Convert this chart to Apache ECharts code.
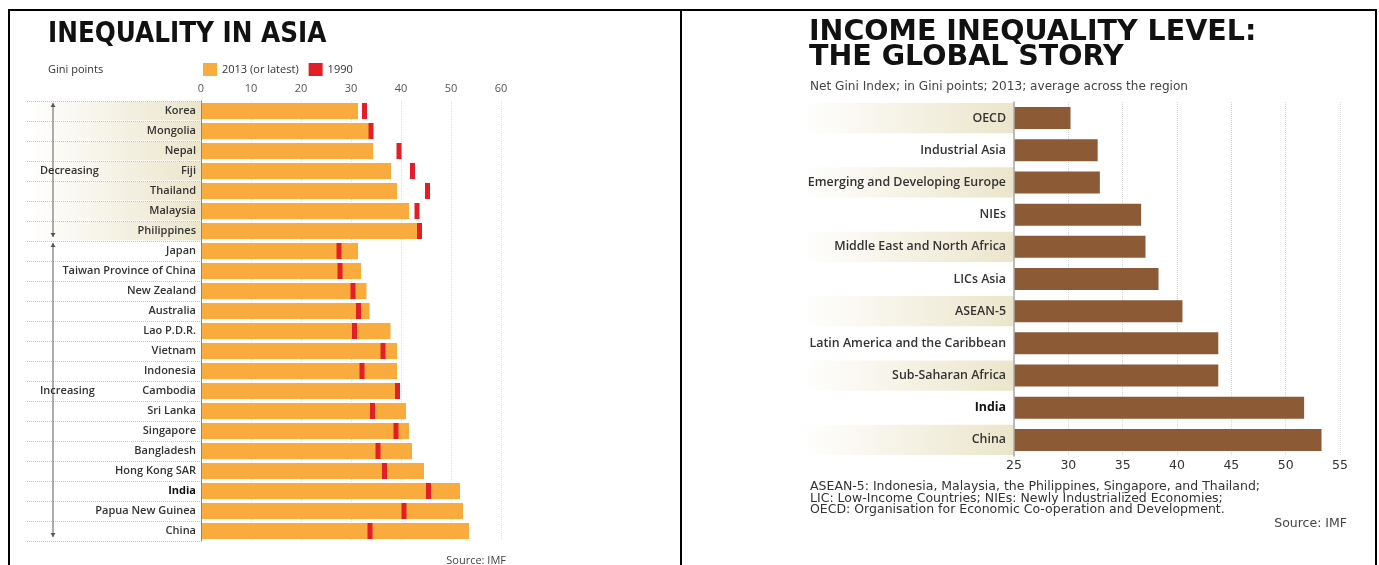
<!DOCTYPE html>
<html>
<head>
<meta charset="utf-8">
<script src="https://cdn.jsdelivr.net/npm/echarts@6/dist/echarts.min.js"></script>
<style>
  html, body { margin: 0; padding: 0; background: #fff; }
  #chart { width: 1379px; height: 565px; }
</style>
</head>
<body>
<div id="chart"></div>
<script>
// ---- Inequality in Asia (Gini points) ----
const asiaCountries = ['Korea', 'Mongolia', 'Nepal', 'Fiji', 'Thailand', 'Malaysia', 'Philippines',
  'Japan', 'Taiwan Province of China', 'New Zealand', 'Australia', 'Lao P.D.R.', 'Vietnam', 'Indonesia',
  'Cambodia', 'Sri Lanka', 'Singapore', 'Bangladesh', 'Hong Kong SAR', 'India', 'Papua New Guinea', 'China'];
const gini2013 = [31.4, 33.6, 34.4, 38.0, 39.2, 41.6, 43.3,
  31.4, 32.0, 33.1, 33.7, 37.9, 39.2, 39.2,
  39.7, 41.0, 41.6, 42.2, 44.6, 51.8, 52.4, 53.6];
const gini1990 = [32.7, 34.0, 39.6, 42.3, 45.3, 43.2, 43.7,
  27.6, 27.8, 30.4, 31.5, 30.7, 36.4, 32.2,
  39.3, 34.3, 39.0, 35.4, 36.7, 45.5, 40.6, 33.8];
const asiaTrend = ['Decreasing', 'Decreasing', 'Decreasing', 'Decreasing', 'Decreasing', 'Decreasing', 'Decreasing',
  'Increasing', 'Increasing', 'Increasing', 'Increasing', 'Increasing', 'Increasing', 'Increasing',
  'Increasing', 'Increasing', 'Increasing', 'Increasing', 'Increasing', 'Increasing', 'Increasing', 'Increasing'];
const asiaTickMin = 0, asiaTickMax = 60, asiaTickStep = 10;

// ---- Income inequality level: the global story (Net Gini, 2013) ----
const regions = ['OECD', 'Industrial Asia', 'Emerging and Developing Europe', 'NIEs',
  'Middle East and North Africa', 'LICs Asia', 'ASEAN-5', 'Latin America and the Caribbean',
  'Sub-Saharan Africa', 'India', 'China'];
const regionGini = [30.2, 32.7, 32.9, 36.7, 37.1, 38.3, 40.5, 43.8, 43.8, 51.7, 53.3];
const regionTickMin = 25, regionTickMax = 55, regionTickStep = 5;

const footnotes = [
  'ASEAN-5: Indonesia, Malaysia, the Philippines, Singapore, and Thailand;',
  'LIC: Low-Income Countries; NIEs: Newly Industrialized Economies;',
  'OECD: Organisation for Economic Co-operation and Development.'
];

const ORANGE = '#f9ab3e';
const RED = '#e31e26';
const BROWN = '#8c5a35';
const BEIGE = '#ebe5cb';
const LABEL_FONT = 'Open Sans';
const TITLE_FONT_NARROW = '"DejaVu Sans Condensed", "DejaVu Sans"';
const TITLE_FONT_WIDE = '"DejaVu Sans"';

const chart = echarts.init(document.getElementById('chart'), null, { renderer: 'canvas' });

function bandGradient() {
  return new echarts.graphic.LinearGradient(0, 0, 1, 0, [
    { offset: 0, color: 'rgba(235,229,203,0)' },
    { offset: 1, color: BEIGE }
  ]);
}

function boldIndia(size) {
  return {
    formatter: v => (v === 'India' ? '{b|' + v + '}' : v),
    rich: { b: { fontWeight: 'bold', fontSize: size, fontFamily: LABEL_FONT, color: '#111' } }
  };
}

const option = {
  animation: false,
  backgroundColor: '#fff',
  legend: {
    left: 203, top: 63, padding: 0,
    itemWidth: 14, itemHeight: 13, itemGap: 10,
    selectedMode: false,
    textStyle: { fontSize: 11, color: '#333', fontFamily: LABEL_FONT },
    data: [{ name: '2013 (or latest)', icon: 'rect' }, { name: '1990', icon: 'rect' }]
  },
  grid: [
    { left: 201, top: 101, width: 300, height: 440 },   // asia bars
    { left: 27, top: 101, width: 174, height: 440 },    // asia label band
    { left: 1014, top: 102, width: 326, height: 354 },  // region bars
    { left: 800, top: 102, width: 214, height: 354 }    // region label band
  ],
  xAxis: [
    {
      gridIndex: 0, type: 'value', position: 'top',
      min: asiaTickMin, max: asiaTickMax, interval: asiaTickStep,
      axisLine: { show: false }, axisTick: { show: false },
      axisLabel: { color: '#555', fontSize: 11, fontFamily: LABEL_FONT, margin: 7 },
      splitLine: { lineStyle: { color: '#dcdcdc', type: 'dotted' } }
    },
    { gridIndex: 1, type: 'value', min: 0, max: 1, show: false },
    {
      gridIndex: 2, type: 'value', position: 'bottom',
      min: regionTickMin, max: regionTickMax, interval: regionTickStep,
      axisLine: { show: false }, axisTick: { show: false },
      axisLabel: { color: '#333', fontSize: 12.5, fontFamily: 'DejaVu Sans', margin: 3 },
      splitLine: { lineStyle: { color: '#d6d6d6', type: 'dotted' } }
    },
    { gridIndex: 3, type: 'value', min: 0, max: 1, show: false }
  ],
  yAxis: [
    {
      gridIndex: 0, type: 'category', data: asiaCountries, inverse: true, z: 5,
      axisLine: { lineStyle: { color: '#888', width: 1 } }, axisTick: { show: false },
      axisLabel: Object.assign({ color: '#333', fontSize: 11, fontWeight: 600, fontFamily: LABEL_FONT, margin: 5 }, boldIndia(11)),
      splitLine: { show: false }
    },
    {
      gridIndex: 1, type: 'category', data: asiaCountries, inverse: true,
      axisLine: { show: false }, axisTick: { show: false }, axisLabel: { show: false },
      splitLine: { show: true, lineStyle: { color: '#c4c4c4', type: 'dotted' } }
    },
    {
      gridIndex: 2, type: 'category', data: regions, inverse: true, z: 5,
      axisLine: { lineStyle: { color: '#aaa', width: 1.5 } }, axisTick: { show: false },
      axisLabel: Object.assign({ color: '#333', fontSize: 12.4, fontWeight: 600, fontFamily: LABEL_FONT, margin: 8 }, boldIndia(12.4)),
      splitLine: { show: false }
    },
    {
      gridIndex: 3, type: 'category', data: regions, inverse: true,
      axisLine: { show: false }, axisTick: { show: false }, axisLabel: { show: false }, splitLine: { show: false }
    }
  ],
  series: [
    {
      type: 'bar', xAxisIndex: 1, yAxisIndex: 1, silent: true, z: -1,
      barCategoryGap: '4%',
      data: asiaTrend.map(t => (t === 'Decreasing' ? 1 : '-')),
      itemStyle: { color: bandGradient() }
    },
    {
      name: '2013 (or latest)', type: 'bar', xAxisIndex: 0, yAxisIndex: 0,
      barWidth: 16, data: gini2013, itemStyle: { color: ORANGE }
    },
    {
      name: '1990', type: 'scatter', xAxisIndex: 0, yAxisIndex: 0, z: 4,
      symbol: 'rect', symbolSize: [5, 16],
      data: gini1990.map((v, i) => [v, asiaCountries[i]]),
      itemStyle: { color: RED, opacity: 1 }
    },
    {
      type: 'bar', xAxisIndex: 3, yAxisIndex: 3, silent: true, z: -1,
      barCategoryGap: '6%',
      data: regions.map((_, i) => (i % 2 === 0 ? 1 : '-')),
      itemStyle: { color: bandGradient() }
    },
    {
      name: 'Net Gini', type: 'bar', xAxisIndex: 2, yAxisIndex: 2,
      barWidth: 22, data: regionGini, itemStyle: { color: BROWN }
    }
  ]
};
chart.setOption(option);

// Frame, titles, notes and the trend arrows beside the Asia rows
function text(x, y, str, font, fill, align) {
  return {
    type: 'text', z: 20, silent: true,
    style: { x: x, y: y, text: str, font: font, fill: fill || '#333',
      textAlign: align || 'left', textVerticalAlign: 'middle' }
  };
}

const frame = [
  { type: 'rect', z: 30, shape: { x: 8, y: 9, width: 1369, height: 2 }, style: { fill: '#000' } },
  { type: 'rect', z: 30, shape: { x: 8, y: 9, width: 2, height: 560 }, style: { fill: '#000' } },
  { type: 'rect', z: 30, shape: { x: 680, y: 9, width: 2, height: 560 }, style: { fill: '#000' } },
  { type: 'rect', z: 30, shape: { x: 1375, y: 9, width: 2, height: 560 }, style: { fill: '#000' } }
];

const labels = [
  text(48, 35, 'INEQUALITY IN ASIA', 'bold 27.5px ' + TITLE_FONT_NARROW, '#111'),
  text(48, 70, 'Gini points', '11px ' + LABEL_FONT, '#333'),
  text(506, 561, 'Source: IMF', '11px ' + LABEL_FONT, '#444', 'right'),
  text(809, 32.5, 'INCOME INEQUALITY LEVEL:', 'bold 28.5px ' + TITLE_FONT_WIDE, '#111'),
  text(809, 58, 'THE GLOBAL STORY', 'bold 28.5px ' + TITLE_FONT_WIDE, '#111'),
  text(810, 87, 'Net Gini Index; in Gini points; 2013; average across the region', '12.1px "DejaVu Sans"', '#444'),
  text(1347, 524, 'Source: IMF', '12.5px "DejaVu Sans"', '#444', 'right')
];
footnotes.forEach((line, i) => labels.push(text(810, 487 + i * 11.6, line, '12.5px "DejaVu Sans"', '#333')));

const arrows = [];
['Decreasing', 'Increasing'].forEach(group => {
  const idx = asiaTrend.map((t, i) => (t === group ? i : -1)).filter(i => i >= 0);
  const first = chart.convertToPixel({ yAxisIndex: 0 }, asiaCountries[idx[0]]);
  const last = chart.convertToPixel({ yAxisIndex: 0 }, asiaCountries[idx[idx.length - 1]]);
  const mid = chart.convertToPixel({ yAxisIndex: 0 }, asiaCountries[idx[Math.floor(idx.length / 2)]]);
  const y1 = first - 8, y2 = last + 6, x = 53;
  arrows.push({ type: 'line', z: 15, silent: true, shape: { x1: x, y1: y1, x2: x, y2: y2 },
    style: { stroke: '#777', lineWidth: 1.2 } });
  arrows.push({ type: 'polygon', z: 15, silent: true,
    shape: { points: [[x - 2.5, y1 + 4], [x + 2.5, y1 + 4], [x, y1]] }, style: { fill: '#555' } });
  arrows.push({ type: 'polygon', z: 15, silent: true,
    shape: { points: [[x - 2.5, y2 - 4], [x + 2.5, y2 - 4], [x, y2]] }, style: { fill: '#555' } });
  arrows.push(text(40, mid, group, '600 11px ' + LABEL_FONT, '#333'));
});

chart.setOption({ graphic: { elements: frame.concat(labels, arrows) } });
</script>
</body>
</html>
